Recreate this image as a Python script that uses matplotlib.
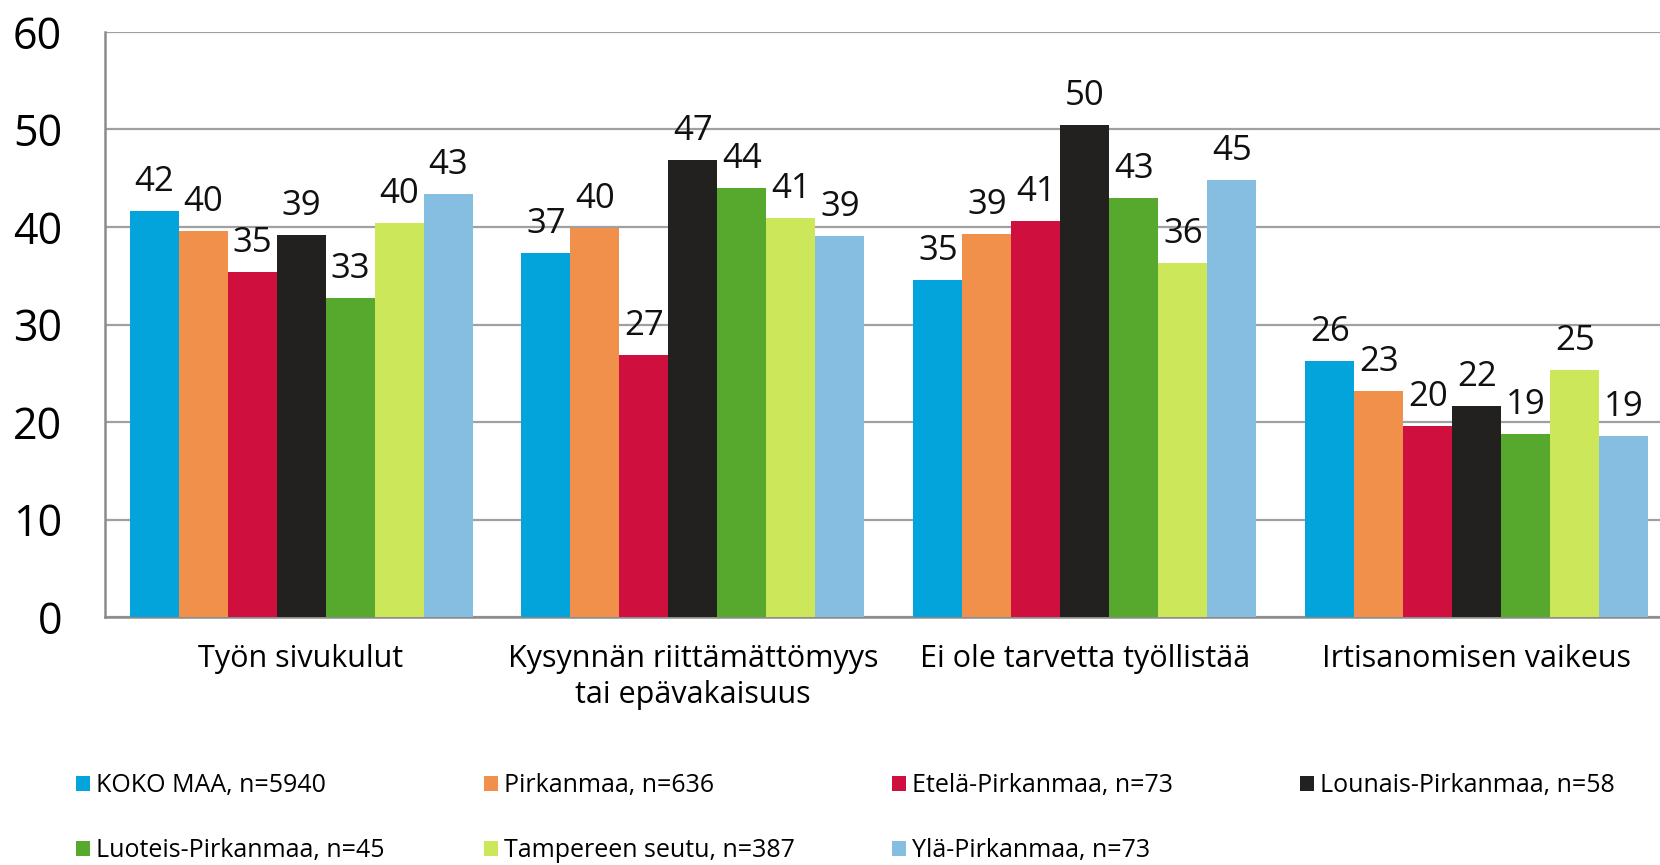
import matplotlib
matplotlib.use("Agg")
import matplotlib.pyplot as plt
import numpy as np
from matplotlib.patches import Patch

plt.rcParams['font.family'] = ['Open Sans', 'DejaVu Sans']

categories = ["Työn sivukulut",
              "Kysynnän riittämättömyys\ntai epävakaisuus",
              "Ei ole tarvetta työllistää",
              "Irtisanomisen vaikeus"]

series_names = ["KOKO MAA, n=5940", "Pirkanmaa, n=636", "Etelä-Pirkanmaa, n=73",
                "Lounais-Pirkanmaa, n=58", "Luoteis-Pirkanmaa, n=45",
                "Tampereen seutu, n=387", "Ylä-Pirkanmaa, n=73"]

koko_maa = [41.6, 37.3, 34.6, 26.3]
pirkanmaa = [39.6, 39.9, 39.3, 23.2]
etela = [35.4, 26.9, 40.6, 19.6]
lounais = [39.2, 46.9, 50.4, 21.6]
luoteis = [32.7, 44.0, 43.0, 18.8]
tampere = [40.4, 40.9, 36.3, 25.3]
yla = [43.4, 39.1, 44.8, 18.6]

values = [koko_maa, pirkanmaa, etela, lounais, luoteis, tampere, yla]
colors = ["#03A4DB", "#F0904A", "#CF0F3E", "#222120", "#57A92E", "#CCE85A", "#86BEE2"]

yticks = [0, 10, 20, 30, 40, 50, 60]

fig = plt.figure(figsize=(16.6, 8.65), dpi=100)
ax = fig.add_axes([0.0633, 0.2865, 1.0077 - 0.0633, 0.6767])

n = len(values)
w = 0.125
x = np.arange(len(categories))
for i, (vals, col) in enumerate(zip(values, colors)):
    pos = x + (i - (n - 1) / 2) * w
    bars = ax.bar(pos, vals, width=w, color=col, edgecolor='none', zorder=3)
    for b, v in zip(bars, vals):
        ax.annotate(f"{v:.0f}", (b.get_x() + b.get_width() / 2, v),
                    xytext=(0, 14.4), textcoords='offset points',
                    ha='center', va='baseline', fontsize=25, color='#111111')

ax.set_xlim(-0.5, 3.5)
ax.set_ylim(0, 60)
ax.set_yticks(yticks)
ax.set_yticklabels([str(t) for t in yticks], fontsize=31)
ax.tick_params(axis='y', length=0, pad=31)
ax.set_xticks(x)
ax.set_xticklabels(categories, fontsize=22, linespacing=1.28)
ax.tick_params(axis='x', length=0, pad=19)
ax.grid(axis='y', color='#A0A0A0', linewidth=1.6, zorder=0)
for s in ['top', 'right']:
    ax.spines[s].set_visible(False)
for s in ['left', 'bottom']:
    ax.spines[s].set_color('#8C8C8C')
    ax.spines[s].set_linewidth(1.8)

leg_x = [0.0458, 0.2916, 0.5374, 0.7831]
leg_y = [0.0919, 0.0162]
for k, (name, col) in enumerate(zip(series_names, colors)):
    r, c = divmod(k, 4)
    h = Patch(facecolor=col, edgecolor='none')
    fig.legend(handles=[h], labels=[name], loc='center left',
               bbox_to_anchor=(leg_x[c], leg_y[r]), frameon=False,
               fontsize=18, handlelength=0.55, handleheight=0.55,
               handletextpad=0.25, borderpad=0, borderaxespad=0)

fig.savefig("out.png", dpi=100)
